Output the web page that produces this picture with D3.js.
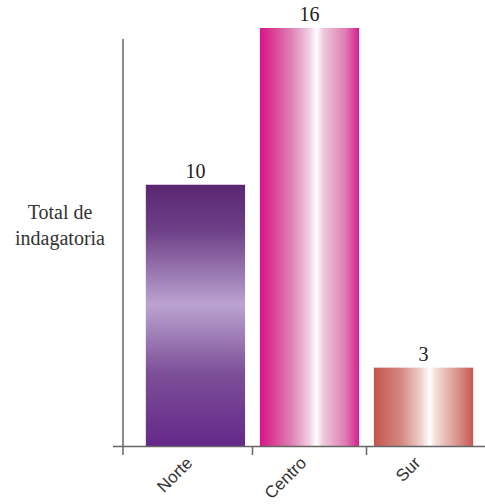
<!DOCTYPE html>
<html><head><meta charset="utf-8">
<script src="https://cdn.jsdelivr.net/npm/d3@7"></script>
<style>body{margin:0;background:#fff}svg{display:block}</style>
</head><body>
<script>
const categories = ["Norte", "Centro", "Sur"];
const values = [10, 16, 3];
const yTitle = ["Total de", "indagatoria"];

const W = 485, H = 504;
const svg = d3.select("body").append("svg").attr("width", W).attr("height", H);
const defs = svg.append("defs");

const grads = [
  {id: "g0", vertical: true, stops: [[0,"#5a2672"],[0.18,"#6f4189"],[0.46,"#bba3d0"],[0.72,"#7d4f98"],[1,"#65288a"]]},
  {id: "g1", vertical: false, stops: [[0,"#d6168a"],[0.1,"#d9358f"],[0.32,"#de82b5"],[0.5,"#f1d0e3"],[0.57,"#ffffff"],[0.64,"#f0c8dd"],[0.86,"#df7db2"],[1,"#d41e8c"]]},
  {id: "g2", vertical: false, stops: [[0,"#c4544f"],[0.28,"#d48a83"],[0.48,"#efd4cd"],[0.56,"#ffffff"],[0.63,"#f3dcd6"],[0.86,"#d78d87"],[1,"#c65752"]]}
];
grads.forEach(g => {
  const lg = defs.append("linearGradient").attr("id", g.id)
    .attr("x1", 0).attr("y1", 0)
    .attr("x2", g.vertical ? 0 : 1).attr("y2", g.vertical ? 1 : 0);
  g.stops.forEach(s => lg.append("stop").attr("offset", s[0]).attr("stop-color", s[1]));
});

const x = d3.scaleBand().domain(categories).range([139, 480]).paddingInner(0.13).paddingOuter(0.06);
const y = d3.scaleLinear().domain([0, 16]).range([446, 28]);

// bars
svg.selectAll("rect.bar").data(values).join("rect")
  .attr("class", "bar")
  .attr("x", (d, i) => x(categories[i]))
  .attr("width", x.bandwidth())
  .attr("y", d => y(d))
  .attr("height", d => y(0) - y(d))
  .attr("fill", (d, i) => `url(#g${i})`);

// value labels
svg.selectAll("text.val").data(values).join("text")
  .attr("class", "val")
  .attr("x", (d, i) => x(categories[i]) + x.bandwidth() / 2)
  .attr("y", d => y(d) - 7)
  .attr("text-anchor", "middle")
  .attr("font-family", "Liberation Serif, serif")
  .attr("font-size", 20)
  .attr("fill", "#222")
  .text(d => d);

// axes
const axisColor = "#666";
svg.append("line").attr("x1", 123).attr("x2", 123).attr("y1", 39).attr("y2", 455)
  .attr("stroke", axisColor).attr("stroke-width", 1.5);
svg.append("line").attr("x1", 113).attr("x2", W).attr("y1", y(0) + 0.5).attr("y2", y(0) + 0.5)
  .attr("stroke", axisColor).attr("stroke-width", 1.5);
const gap = x.step() * x.paddingInner() / 2;
svg.selectAll("line.tick").data(categories.slice(1)).join("line")
  .attr("class", "tick")
  .attr("x1", d => x(d) - gap).attr("x2", d => x(d) - gap)
  .attr("y1", y(0)).attr("y2", y(0) + 9)
  .attr("stroke", axisColor).attr("stroke-width", 1.5);

// category labels
svg.selectAll("text.cat").data(categories).join("text")
  .attr("class", "cat")
  .attr("transform", d => `translate(${x(d) + x.bandwidth() / 2 - 2},464) rotate(-45)`)
  .attr("text-anchor", "end")
  .attr("font-family", "Liberation Sans, Arial, sans-serif")
  .attr("font-size", 17)
  .attr("fill", "#333")
  .text(d => d);

// y title
const yt = svg.append("text")
  .attr("text-anchor", "middle")
  .attr("font-family", "Liberation Serif, serif")
  .attr("font-size", 20)
  .attr("fill", "#333");
yTitle.forEach((t, i) => yt.append("tspan").attr("x", 60).attr("y", 219 + i * 26).text(t));
</script>
</body></html>
